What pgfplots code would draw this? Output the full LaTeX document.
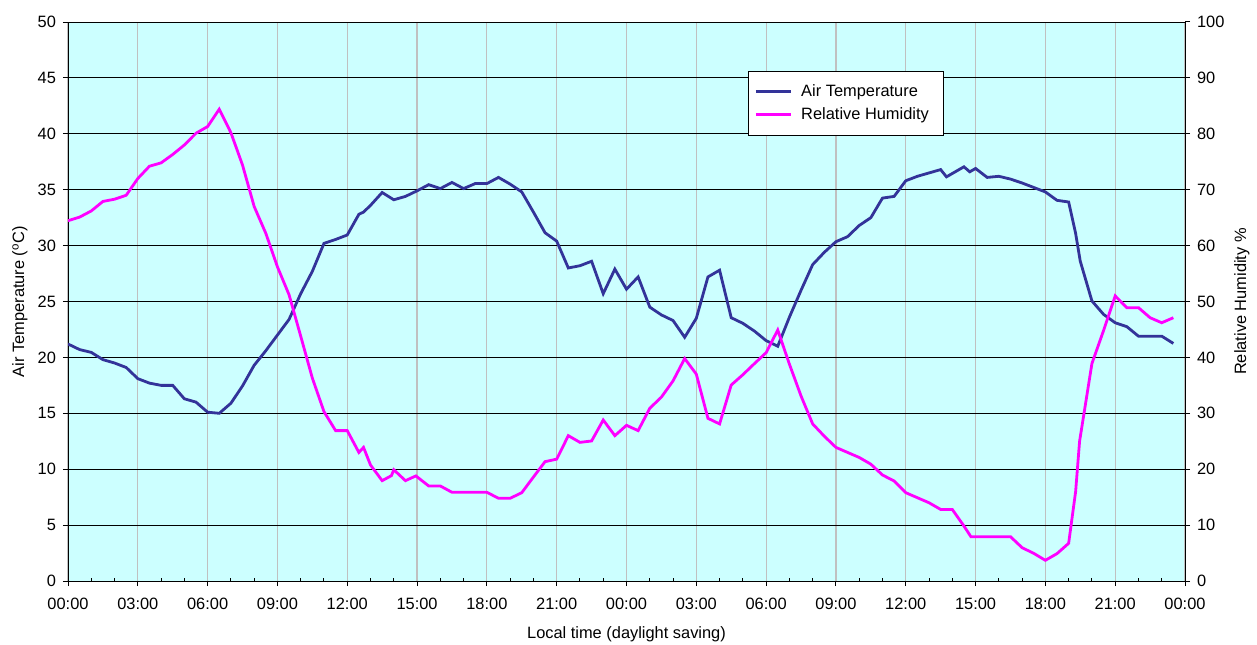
\documentclass[border=0pt]{standalone}
\usepackage{fontspec}
\setmainfont{Liberation Sans}
\usepackage{pgfplots}
\pgfplotsset{compat=1.18}
\definecolor{bgcyan}{HTML}{CCFFFF}
\definecolor{tempc}{HTML}{333399}
\definecolor{rhc}{HTML}{FF00FF}
\definecolor{vgrid}{HTML}{C0C0C0}
\begin{document}
\begin{tikzpicture}
\useasboundingbox (-34pt,-31.5pt) rectangle (594.5pt,290.5pt);
\pgfplotsset{every axis/.append style={font=\fontsize{8.2pt}{9.8pt}\selectfont}}
\begin{axis}[
  scale only axis, width=558.5pt, height=279.5pt,
  xmin=0, xmax=48, ymin=0, ymax=50,
  xtick={0,3,...,48},
  xticklabels={00:00,03:00,06:00,09:00,12:00,15:00,18:00,21:00,00:00,03:00,06:00,09:00,12:00,15:00,18:00,21:00,00:00},
  minor x tick num=2,
  ytick={0,5,...,50},
  xtick pos=bottom, ytick pos=left,
  tick align=outside,
  major tick length=2.5pt, minor tick length=1.5pt,
  every minor tick/.append style={yshift=1.5pt},
  tick style={black, line width=0.5pt},
  /pgf/number format/assume math mode=true,
  xmajorgrids, ymajorgrids,
  x grid style={vgrid, line width=0.6pt},
  y grid style={black, line width=0.5pt},
  axis line style={black, line width=0.5pt},
  axis background/.style={fill=bgcyan},
  xlabel={Local time (daylight saving)},
  xlabel style={at={(axis description cs:0.5,-0.095)}, anchor=center},
  ylabel={Air Temperature (\textsuperscript{o}C)},
  ylabel style={at={(axis description cs:-0.043,0.5)}, anchor=center},
  xticklabel style={yshift=-2.5pt},
]
\addplot[tempc, line width=1.4pt] coordinates {
(0,21.2) (0.5,20.7) (1,20.45) (1.5,19.8) (2,19.5) (2.5,19.1) (3,18.1) (3.5,17.7)
(4,17.5) (4.5,17.5) (5,16.3) (5.5,16.0) (6,15.1) (6.5,15.0) (7,15.9) (7.5,17.45)
(8,19.3) (8.5,20.6) (9,22.0) (9.5,23.4) (10,25.7) (10.5,27.7) (11,30.2) (11.5,30.55)
(12,30.95) (12.5,32.8) (12.7,33.0) (13,33.6) (13.5,34.75) (14,34.1) (14.5,34.4) (15,34.9)
(15.5,35.45) (16,35.1) (16.5,35.65) (17,35.1) (17.5,35.55) (18,35.55) (18.5,36.1) (19,35.5)
(19.5,34.8) (20,33.0) (20.5,31.15) (21,30.4) (21.5,28.0) (22,28.2) (22.5,28.6) (23,25.7)
(23.5,27.9) (24,26.1) (24.5,27.2) (25,24.5) (25.5,23.8) (26,23.3) (26.5,21.8) (27,23.5)
(27.5,27.2) (28,27.8) (28.5,23.55) (29,23.05) (29.5,22.35) (30,21.5) (30.5,21.0) (31,23.6)
(31.5,26.0) (32,28.3) (32.5,29.4) (33,30.35) (33.5,30.8) (34,31.8) (34.5,32.5) (35,34.25)
(35.5,34.4) (36,35.8) (36.5,36.2) (37,36.5) (37.5,36.8) (37.75,36.15) (38.5,37.05) (38.75,36.6)
(39,36.9) (39.5,36.1) (40,36.2) (40.5,35.95) (41,35.6) (41.5,35.2) (42,34.8) (42.5,34.05)
(43,33.9) (43.3,31.1) (43.5,28.6) (44,25.05) (44.5,23.85) (45,23.1) (45.5,22.75) (46,21.9)
(46.5,21.9) (47,21.9) (47.5,21.25)
};
\end{axis}
\begin{axis}[
  scale only axis, width=558.5pt, height=279.5pt,
  xmin=0, xmax=48, ymin=0, ymax=100,
  ytick={0,10,...,100},
  axis y line*=right, axis x line=none,
  tick align=outside, major tick length=2.5pt,
  tick style={black, line width=0.5pt},
  axis line style={black, line width=0.5pt},
  /pgf/number format/assume math mode=true,
  ylabel={Relative Humidity \%},
  ylabel style={at={(axis description cs:1.051,0.5)}, anchor=center, rotate=0},
  legend style={at={(rel axis cs:0.6088,0.9123)}, anchor=north west, draw=black, fill=white,
    font=\fontsize{8.2pt}{9.8pt}\selectfont, inner xsep=3pt, inner ysep=4.5pt,
    row sep=0pt, cells={anchor=west}, nodes={inner xsep=4.5pt}},
  legend image code/.code={\draw[#1] (0pt,0pt) -- (17.5pt,0pt);},
]
\addlegendimage{tempc, line width=1.4pt}
\addlegendentry{Air Temperature}
\addplot[rhc, line width=1.4pt] coordinates {
(0,64.45) (0.5,65.1) (1,66.2) (1.5,67.9) (2,68.3) (2.5,69.0) (3,72.0) (3.5,74.2)
(4,74.8) (4.5,76.3) (5,78.0) (5.5,80.1) (6,81.3) (6.5,84.4) (7,80.2) (7.5,74.4)
(8,67.0) (8.5,62.2) (9,56.2) (9.5,51.2) (10,43.8) (10.5,36.3) (11,30.3) (11.5,26.9)
(12,26.9) (12.5,23.0) (12.7,23.9) (13,20.75) (13.5,17.95) (13.9,18.85) (14,19.9) (14.5,17.95)
(14.95,18.8) (15.5,17.0) (16,17.0) (16.5,15.87) (17,15.87) (17.5,15.87) (18,15.87) (18.5,14.8)
(19,14.8) (19.5,15.8) (20,18.6) (20.5,21.35) (21,21.8) (21.5,26.0) (22,24.8) (22.5,25.05)
(23,28.8) (23.5,26.0) (24,27.85) (24.5,26.9) (25,30.9) (25.5,32.9) (26,35.8) (26.5,39.8)
(27,37.0) (27.5,29.1) (28,28.1) (28.5,35.06) (29,36.9) (29.5,38.9) (30,40.85) (30.5,44.9)
(31,38.8) (31.5,33.1) (32,28.1) (32.5,25.9) (33,23.9) (33.5,23.0) (34,22.1) (34.5,20.9)
(35,18.96) (35.5,17.9) (36,15.8) (36.5,14.9) (37,14.0) (37.5,12.8) (38,12.8) (38.5,9.84)
(38.8,7.93) (39,7.93) (39.5,7.93) (40,7.93) (40.5,7.93) (41,5.96) (41.5,4.95) (42,3.7)
(42.5,4.9) (43,6.74) (43.3,16.0) (43.47,25.0) (44,38.9) (44.5,44.8) (45,51.0) (45.5,48.9)
(46,48.9) (46.5,47.1) (47,46.2) (47.5,47.1)
};
\addlegendentry{Relative Humidity}
\end{axis}
\end{tikzpicture}
\end{document}
